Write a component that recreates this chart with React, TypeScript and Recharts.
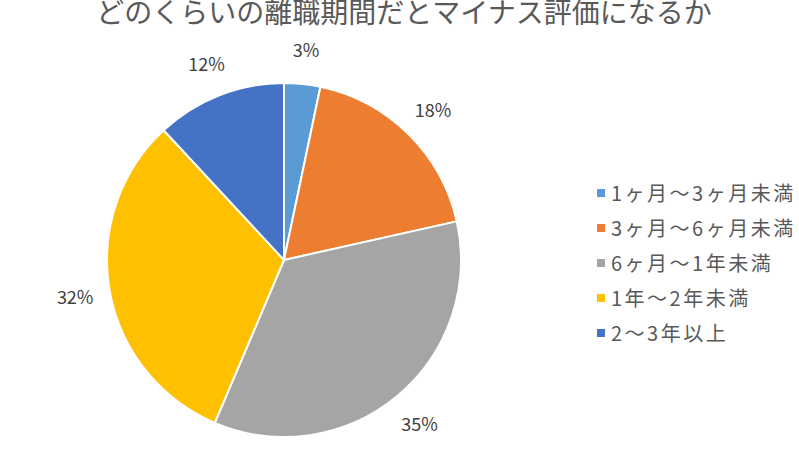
import React from 'react';
import {PieChart, Pie, Cell} from 'recharts';

const categories = ['1ヶ月～3ヶ月未満', '3ヶ月～6ヶ月未満', '6ヶ月～1年未満', '1年～2年未満', '2～3年以上'];
const shares = [3.3, 18.2, 34.9, 31.7, 11.9];
const colors = ['#5B9BD5', '#ED7D31', '#A5A5A5', '#FFC000', '#4472C4'];

const data = categories.map((name, i) => ({name, value: shares[i]}));

const RADIAN = Math.PI / 180;
const font = '"Noto Sans CJK JP", "Noto Sans", sans-serif';

const renderLabel = (props: any) => {
    const {cx, cy, midAngle, outerRadius, percent} = props;
    const r = outerRadius + 35;
    const x = cx + r * Math.cos(-midAngle * RADIAN);
    const y = cy + r * Math.sin(-midAngle * RADIAN);
    return (
        <text x={x} y={y} fill="#404040" fontSize={18} fontFamily={font}
              textAnchor="middle" dominantBaseline="central">
            {`${Math.round(percent * 100)}%`}
        </text>
    );
};

const App = () => {
    return (
        <div style={{position: 'absolute', left: 0, top: 0, width: 799, height: 467, background: '#fff', overflow: 'hidden'}}>
            <div style={{
                position: 'absolute', top: -9, left: 0, width: 808, textAlign: 'center',
                fontFamily: font, fontSize: 28, color: '#595959', whiteSpace: 'nowrap'
            }}>
                どのくらいの離職期間だとマイナス評価になるか
            </div>
            <PieChart width={799} height={467}>
                <Pie
                    data={data}
                    dataKey="value"
                    nameKey="name"
                    cx={279}
                    cy={255}
                    outerRadius={177}
                    startAngle={90}
                    endAngle={-270}
                    stroke="#fff"
                    strokeWidth={2}
                    label={renderLabel}
                    labelLine={false}
                    isAnimationActive={false}
                >
                    {data.map((d, i) => <Cell key={d.name} fill={colors[i]}/>)}
                </Pie>
            </PieChart>
            {/* legend */}
            <div style={{position: 'absolute', left: 597, top: 175, fontFamily: font}}>
                {categories.map((name, i) => (
                    <div key={name} style={{display: 'flex', alignItems: 'center', height: 35}}>
                        <span style={{width: 8, height: 8, background: colors[i], marginRight: 6}}/>
                        <span style={{fontSize: 20, color: '#595959', letterSpacing: 2.5, whiteSpace: 'nowrap'}}>{name}</span>
                    </div>
                ))}
            </div>
        </div>
    );
};

export default App;
